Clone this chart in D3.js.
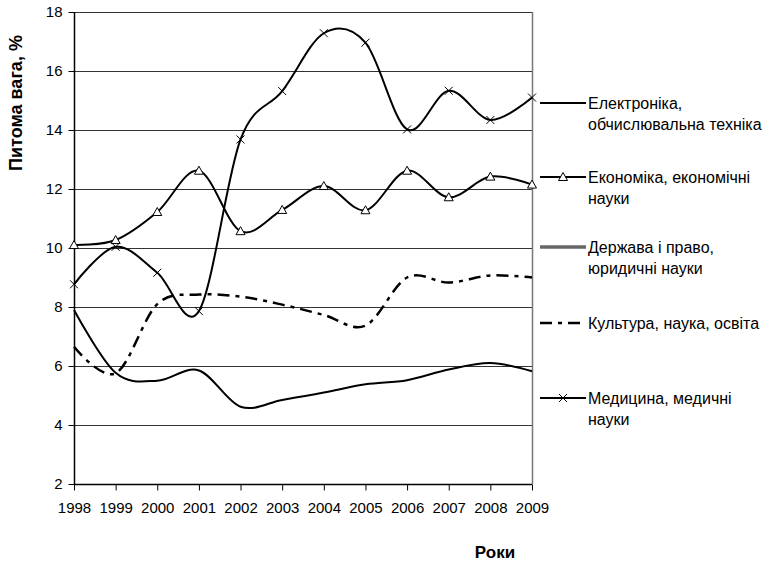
<!DOCTYPE html>
<html>
<head>
<meta charset="utf-8">
<script src="https://cdn.jsdelivr.net/npm/d3@7"></script>
<style>
    body { margin: 0; padding: 0; background: #fff; font-family: "Liberation Sans", Arial, sans-serif; }
    svg { display: block; }
</style>
</head>
<body>
<div id="chart"></div>
<script>
    var years = [1998, 1999, 2000, 2001, 2002, 2003, 2004, 2005, 2006, 2007, 2008, 2009];
    var yTicks = [2, 4, 6, 8, 10, 12, 14, 16, 18];

    var electronics = [7.9, 5.77, 5.5, 5.85, 4.62, 4.85, 5.1, 5.38, 5.52, 5.88, 6.1, 5.82];
    var economics = [10.1, 10.27, 11.22, 12.62, 10.57, 11.29, 12.1, 11.28, 12.62, 11.72, 12.42, 12.15];
    var law = [];
    var culture = [6.65, 5.75, 8.1, 8.42, 8.35, 8.08, 7.73, 7.37, 9.0, 8.83, 9.07, 9.0];
    var medicine = [8.77, 10.04, 9.16, 7.86, 13.68, 15.32, 17.28, 16.96, 14.02, 15.33, 14.34, 15.1];

    var seriesNames = [
        ["Електроніка,", "обчислювальна техніка"],
        ["Економіка, економічні", "науки"],
        ["Держава і право,", "юридичні науки"],
        ["Культура, наука, освіта"],
        ["Медицина, медичні", "науки"]
    ];

    var series = [
        { name: seriesNames[0], values: electronics, color: "#000", width: 2, dash: null, marker: null },
        { name: seriesNames[1], values: economics, color: "#000", width: 2, dash: null, marker: "triangle" },
        { name: seriesNames[2], values: law, color: "#666", width: 3.5, dash: null, marker: null },
        { name: seriesNames[3], values: culture, color: "#000", width: 2.5, dash: "12,6,4,6", marker: null },
        { name: seriesNames[4], values: medicine, color: "#000", width: 2, dash: null, marker: "cross" }
    ];

    var W = 771, H = 561;
    var plot = { left: 74, right: 532, top: 12, bottom: 484 };

    var svg = d3.select("#chart").append("svg")
        .attr("width", W)
        .attr("height", H);

    var x = d3.scaleLinear().domain([1998, 2009]).range([plot.left, plot.right]);
    var y = d3.scaleLinear().domain([2, 18]).range([plot.bottom, plot.top]);

    // gridlines
    svg.append("g")
        .selectAll("line")
        .data(yTicks.slice(1))
        .enter()
        .append("line")
        .attr("x1", plot.left)
        .attr("x2", plot.right)
        .attr("y1", function(d) { return Math.round(y(d)) + 0.5; })
        .attr("y2", function(d) { return Math.round(y(d)) + 0.5; })
        .attr("stroke", "#333")
        .attr("stroke-width", 1);

    // right border
    svg.append("line")
        .attr("x1", plot.right + 0.5).attr("x2", plot.right + 0.5)
        .attr("y1", plot.top).attr("y2", plot.bottom)
        .attr("stroke", "#777")
        .attr("stroke-width", 1.5);

    // axes
    var yAxis = d3.axisLeft(y).tickValues(yTicks).tickSize(6).tickPadding(6).tickFormat(d3.format("d"));
    var gy = svg.append("g")
        .attr("transform", "translate(" + (plot.left + 0.5) + ",0)")
        .call(yAxis);

    var xAxis = d3.axisBottom(x).tickValues(years).tickSize(6).tickPadding(12).tickFormat(d3.format("d"));
    var gx = svg.append("g")
        .attr("transform", "translate(0," + (plot.bottom + 0.5) + ")")
        .call(xAxis);

    [gx, gy].forEach(function(g) {
        g.selectAll("path").attr("stroke", "#000").attr("stroke-width", 1.5);
        g.selectAll("line").attr("stroke", "#000");
        g.selectAll("text")
            .attr("fill", "#000")
            .style("font-family", "'Liberation Sans', Arial, sans-serif")
            .style("font-size", "15px");
    });
    gy.select(".domain").attr("d", "M0," + plot.top + "V" + plot.bottom);
    gx.select(".domain").attr("d", "M" + plot.left + ",0H" + plot.right);

    // axis titles
    svg.append("text")
        .attr("transform", "translate(22,103) rotate(-90)")
        .attr("text-anchor", "middle")
        .style("font-weight", "bold")
        .style("font-size", "18px")
        .text("Питома вага, %");

    svg.append("text")
        .attr("x", 495)
        .attr("y", 558)
        .attr("text-anchor", "middle")
        .style("font-weight", "bold")
        .style("font-size", "17px")
        .text("Роки");

    var line = d3.line()
        .x(function(d, i) { return x(years[i]); })
        .y(function(d) { return y(d); })
        .curve(d3.curveCardinal.tension(0));

    series.forEach(function(s) {
        if (!s.values.length) return;
        svg.append("path")
            .datum(s.values)
            .attr("d", line)
            .attr("fill", "none")
            .attr("stroke", s.color)
            .attr("stroke-width", s.width)
            .attr("stroke-dasharray", s.dash);
    });

    function drawMarker(g, kind, cx, cy) {
        if (kind === "triangle") {
            g.append("path")
                .attr("d", "M" + cx + "," + (cy - 4.5) + "L" + (cx + 4.5) + "," + (cy + 3.5) + "L" + (cx - 4.5) + "," + (cy + 3.5) + "Z")
                .attr("fill", "#fff")
                .attr("stroke", "#000")
                .attr("stroke-width", 1);
        } else if (kind === "cross") {
            g.append("path")
                .attr("d", "M" + (cx - 4) + "," + (cy - 4) + "L" + (cx + 4) + "," + (cy + 4) +
                           "M" + (cx + 4) + "," + (cy - 4) + "L" + (cx - 4) + "," + (cy + 4))
                .attr("fill", "none")
                .attr("stroke", "#000")
                .attr("stroke-width", 1);
        }
    }

    series.forEach(function(s) {
        if (!s.marker) return;
        var g = svg.append("g");
        s.values.forEach(function(v, i) {
            drawMarker(g, s.marker, x(years[i]), y(v));
        });
    });

    // legend
    var legendY = [103, 177, 247, 323, 398];
    var legend = svg.append("g");
    series.forEach(function(s, i) {
        var ly = legendY[i];
        legend.append("line")
            .attr("x1", 540).attr("x2", 586)
            .attr("y1", ly).attr("y2", ly)
            .attr("stroke", s.color)
            .attr("stroke-width", s.width)
            .attr("stroke-dasharray", s.dash);
        if (s.marker) drawMarker(legend, s.marker, 563, ly);
        s.name.forEach(function(t, j) {
            legend.append("text")
                .attr("x", 588)
                .attr("y", ly + 5.5 + j * 21)
                .style("font-size", "16px")
                .text(t);
        });
    });
</script>
</body>
</html>
